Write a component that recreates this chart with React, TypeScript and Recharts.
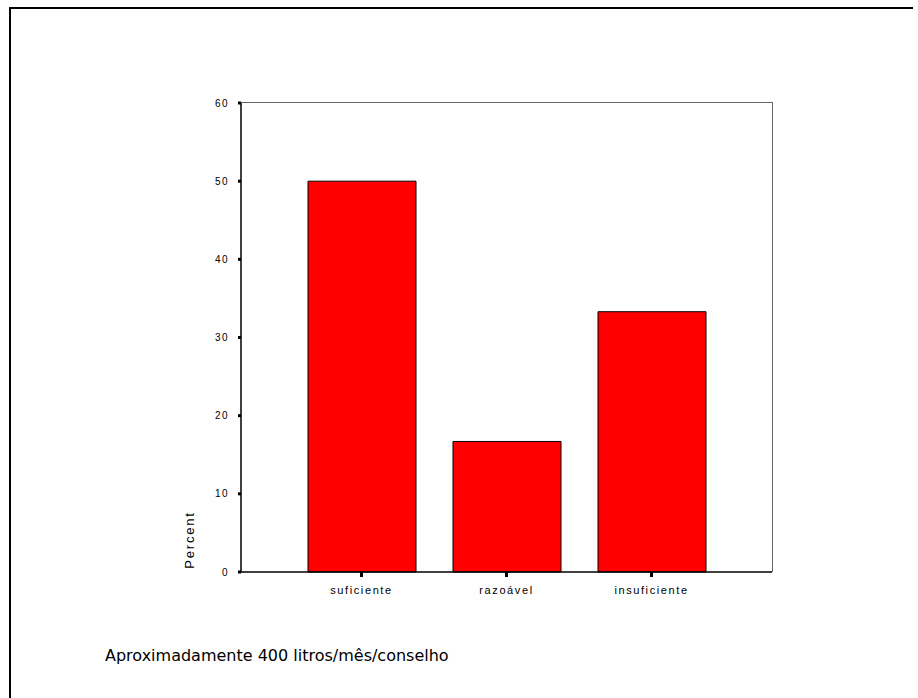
import { BarChart, Bar, XAxis, YAxis } from "recharts";

const categories = ["suficiente", "razoável", "insuficiente"];
const percents = [50, 16.7, 33.3];
const yTicks = [0, 10, 20, 30, 40, 50, 60];
const footnote = "Aproximadamente 400 litros/mês/conselho";

const data = categories.map((c, i) => ({ name: c, pct: percents[i] }));

const font = "Arial, 'Liberation Sans', sans-serif";
const xTickFont = { fontSize: 11, fill: "#000", fontFamily: font, letterSpacing: 1.6 };
const yTickFont = { fontSize: 10, fill: "#000", fontFamily: font, letterSpacing: 1.5 };

// chart box
const W = 918;
const H = 698;
const M = { top: 103, right: 146, bottom: 96, left: 201 };
const Y_W = 40;
const X_H = 30;

function PercentLabel(props: any) {
  const vb = props.viewBox;
  const x = vb.x - 7;
  const y = vb.y + vb.height - 32;
  return (
    <text
      x={x}
      y={y}
      transform={`rotate(-90 ${x} ${y})`}
      textAnchor="middle"
      fontSize={13}
      letterSpacing={1.8}
      fontFamily={font}
      fill="#000"
    >
      Percent
    </text>
  );
}

export default function App() {
  const plotLeft = M.left + Y_W;
  const plotTop = M.top;
  const plotW = W - M.right - plotLeft;
  const plotH = H - M.bottom - X_H - plotTop;
  return (
    <div style={{ position: "absolute", left: 0, top: 0, width: W, height: H, background: "#fff", overflow: "hidden" }}>
      <div
        style={{
          position: "absolute",
          left: 9,
          top: 7,
          width: 904,
          height: 691,
          boxSizing: "border-box",
          borderTop: "2px solid #000",
          borderLeft: "2px solid #000",
        }}
      />
      {/* top and right edges of the plot frame */}
      <div
        style={{
          position: "absolute",
          left: plotLeft,
          top: plotTop - 1,
          width: plotW,
          height: plotH,
          borderTop: "1.5px solid #666",
          borderRight: "1.5px solid #666",
        }}
      />
      <div style={{ position: "absolute", left: 0, top: 0 }}>
        <BarChart width={W} height={H} data={data} margin={M}>
          <XAxis
            dataKey="name"
            padding={{ left: 48, right: 48 }}
            height={X_H}
            axisLine={{ stroke: "#000", strokeWidth: 1.5 }}
            tickLine={{ stroke: "#000", strokeWidth: 3 }}
            tickSize={5}
            tickMargin={9}
            tick={xTickFont}
            interval={0}
          />
          <YAxis
            width={Y_W}
            domain={[0, 60]}
            ticks={yTicks}
            axisLine={{ stroke: "#000", strokeWidth: 1.5 }}
            tickLine={{ stroke: "#000", strokeWidth: 3 }}
            tickSize={3}
            tickMargin={9}
            tick={yTickFont}
            label={<PercentLabel />}
          />
          <Bar dataKey="pct" fill="#ff0000" stroke="#000" strokeWidth={1} barSize={108} isAnimationActive={false} />
        </BarChart>
      </div>
      <div
        style={{
          position: "absolute",
          left: 105,
          top: 646,
          fontSize: 16,
          fontFamily: "'Comic Sans MS', 'DejaVu Sans', sans-serif",
          color: "#000",
          whiteSpace: "nowrap",
        }}
      >
        {footnote}
      </div>
    </div>
  );
}
